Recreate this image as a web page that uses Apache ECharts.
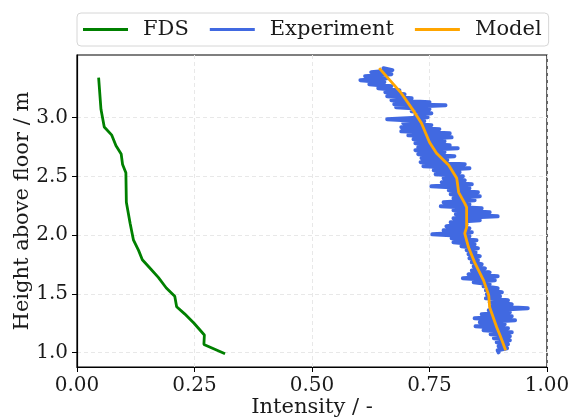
<!DOCTYPE html>
<html>
<head>
<meta charset="utf-8">
<script src="https://cdn.jsdelivr.net/npm/echarts@6/dist/echarts.min.js"></script>
<style>
  html, body { margin: 0; padding: 0; background: #fff; }
  #chart { width: 572px; height: 418px; }
</style>
</head>
<body>
<div id="chart"></div>
<script>
// FDS profile: [intensity, height]
var fdsData = [
  [0.046, 3.34], [0.051, 3.07], [0.058, 2.92], [0.074, 2.85], [0.083, 2.76],
  [0.094, 2.69], [0.097, 2.60], [0.104, 2.53], [0.105, 2.28], [0.113, 2.10],
  [0.120, 1.96], [0.131, 1.87], [0.139, 1.79], [0.155, 1.72], [0.173, 1.64],
  [0.190, 1.55], [0.208, 1.48], [0.212, 1.39], [0.229, 1.33], [0.249, 1.25],
  [0.271, 1.15], [0.270, 1.07], [0.315, 0.99]
]

// measured profile: [intensity, height]
var experimentData = [
  [0.652, 3.420], [0.671, 3.403], [0.626, 3.386], [0.669, 3.369], [0.613, 3.352],
  [0.660, 3.335], [0.603, 3.318], [0.654, 3.301], [0.622, 3.284], [0.669, 3.267],
  [0.641, 3.250], [0.686, 3.233], [0.656, 3.215], [0.697, 3.198], [0.660, 3.181],
  [0.712, 3.164], [0.669, 3.147], [0.750, 3.130], [0.675, 3.113], [0.784, 3.105],
  [0.679, 3.088], [0.750, 3.071], [0.712, 3.054], [0.754, 3.037], [0.720, 3.020],
  [0.746, 3.003], [0.660, 2.986], [0.739, 2.969], [0.694, 2.952], [0.754, 2.935],
  [0.690, 2.918], [0.771, 2.901], [0.690, 2.883], [0.793, 2.866], [0.705, 2.849],
  [0.797, 2.832], [0.716, 2.815], [0.782, 2.798], [0.720, 2.781], [0.793, 2.764],
  [0.726, 2.747], [0.810, 2.739], [0.720, 2.722], [0.782, 2.705], [0.726, 2.688],
  [0.803, 2.671], [0.733, 2.654], [0.788, 2.637], [0.731, 2.620], [0.825, 2.603],
  [0.737, 2.586], [0.835, 2.569], [0.759, 2.551], [0.814, 2.534], [0.763, 2.517],
  [0.821, 2.500], [0.780, 2.483], [0.825, 2.466], [0.776, 2.449], [0.840, 2.432],
  [0.754, 2.415], [0.835, 2.398], [0.791, 2.381], [0.853, 2.364], [0.795, 2.347],
  [0.857, 2.330], [0.801, 2.313], [0.846, 2.296], [0.780, 2.279], [0.835, 2.262],
  [0.774, 2.245], [0.861, 2.228], [0.801, 2.211], [0.878, 2.194], [0.806, 2.177],
  [0.895, 2.160], [0.801, 2.143], [0.857, 2.126], [0.795, 2.109], [0.829, 2.092],
  [0.786, 2.075], [0.835, 2.058], [0.780, 2.041], [0.840, 2.024], [0.756, 2.007],
  [0.835, 1.990], [0.797, 1.973], [0.850, 1.956], [0.801, 1.939], [0.846, 1.922],
  [0.818, 1.905], [0.853, 1.888], [0.829, 1.871], [0.848, 1.854], [0.833, 1.837],
  [0.857, 1.820], [0.835, 1.803], [0.853, 1.786], [0.840, 1.769], [0.861, 1.752],
  [0.844, 1.734], [0.868, 1.717], [0.840, 1.700], [0.878, 1.683], [0.833, 1.666],
  [0.895, 1.649], [0.821, 1.632], [0.889, 1.615], [0.844, 1.598], [0.878, 1.581],
  [0.865, 1.564], [0.895, 1.547], [0.870, 1.530], [0.904, 1.513], [0.872, 1.496],
  [0.900, 1.479], [0.870, 1.462], [0.917, 1.445], [0.878, 1.428], [0.925, 1.411],
  [0.880, 1.394], [0.959, 1.377], [0.876, 1.360], [0.921, 1.343], [0.861, 1.326],
  [0.925, 1.309], [0.846, 1.292], [0.932, 1.275], [0.857, 1.258], [0.910, 1.241],
  [0.848, 1.224], [0.917, 1.207], [0.865, 1.190], [0.925, 1.173], [0.880, 1.156],
  [0.921, 1.139], [0.887, 1.122], [0.921, 1.105], [0.893, 1.088], [0.917, 1.071],
  [0.897, 1.054], [0.915, 1.037], [0.895, 1.020], [0.897, 1.003]
]

// model profile: [intensity, height]
var modelData = [
  [0.643, 3.420], [0.675, 3.276], [0.690, 3.207], [0.718, 3.046], [0.733, 2.951],
  [0.750, 2.790], [0.765, 2.696], [0.791, 2.594], [0.808, 2.483], [0.812, 2.364],
  [0.825, 2.270], [0.829, 2.236], [0.829, 2.066], [0.825, 2.015], [0.833, 1.896],
  [0.846, 1.768], [0.865, 1.615], [0.876, 1.488], [0.878, 1.386], [0.893, 1.216],
  [0.900, 1.148], [0.912, 1.020]
]

var yTicks = [1.0, 1.5, 2.0, 2.5, 3.0]

var font = 'DejaVu Serif'
var chart = echarts.init(document.getElementById('chart'))

chart.setOption({
  animation: false,
  textStyle: { fontFamily: font },
  legend: {
    left: 77,
    top: 13,
    padding: [6, 7, 6, 6],
    itemWidth: 45,
    itemHeight: 3,
    itemGap: 21,
    icon: 'rect',
    borderColor: '#d6d6d6',
    borderWidth: 1,
    borderRadius: 4,
    textStyle: { fontFamily: font, fontSize: 21, color: '#1a1a1a', padding: [0, 0, 0, 10] },
    data: ['FDS', 'Experiment', 'Model']
  },
  grid: {
    left: 77,
    right: 25,
    top: 55,
    bottom: 51,
    outerBoundsMode: 'none',
    show: true,
    borderColor: '#000',
    borderWidth: 1.2
  },
  xAxis: {
    type: 'value',
    min: 0,
    max: 1,
    interval: 0.25,
    name: 'Intensity / -',
    nameLocation: 'middle',
    nameGap: 30,
    nameMoveOverlap: false,
    nameTextStyle: { fontFamily: font, fontSize: 21, color: '#1a1a1a' },
    axisLine: { show: true, lineStyle: { color: '#000', width: 1.2 } },
    axisTick: { show: true, length: 5, lineStyle: { color: '#000' } },
    axisLabel: {
      fontFamily: font, fontSize: 20, color: '#1a1a1a', margin: 9,
      formatter: function (v) { return v.toFixed(2) }
    },
    splitLine: { show: true, lineStyle: { color: '#e8e8e8', type: [4, 3], width: 1 } }
  },
  yAxis: {
    type: 'value',
    min: 0.878,
    max: 3.532,
    name: 'Height above floor / m',
    nameLocation: 'middle',
    nameGap: 44,
    nameMoveOverlap: false,
    nameTextStyle: { fontFamily: font, fontSize: 21, color: '#1a1a1a' },
    axisLine: { show: true, lineStyle: { color: '#000', width: 1.2 } },
    axisTick: { show: true, length: 5, lineStyle: { color: '#000' }, customValues: yTicks },
    axisLabel: {
      fontFamily: font, fontSize: 20, color: '#1a1a1a', margin: 9,
      customValues: yTicks,
      formatter: function (v) { return v.toFixed(1) }
    },
    splitLine: { show: true, lineStyle: { color: '#e8e8e8', type: [4, 3], width: 1 } }
  },
  series: [
    {
      name: 'FDS',
      type: 'line',
      data: fdsData,
      showSymbol: false,
      color: '#008000',
      lineStyle: { width: 2.8 }
    },
    {
      name: 'Experiment',
      type: 'line',
      data: experimentData,
      showSymbol: false,
      color: '#4169e1',
      lineStyle: { width: 4, join: 'round', cap: 'round' }
    },
    {
      name: 'Model',
      type: 'line',
      data: modelData,
      showSymbol: false,
      color: '#ffa500',
      lineStyle: { width: 2.8 }
    }
  ]
})
</script>
</body>
</html>
